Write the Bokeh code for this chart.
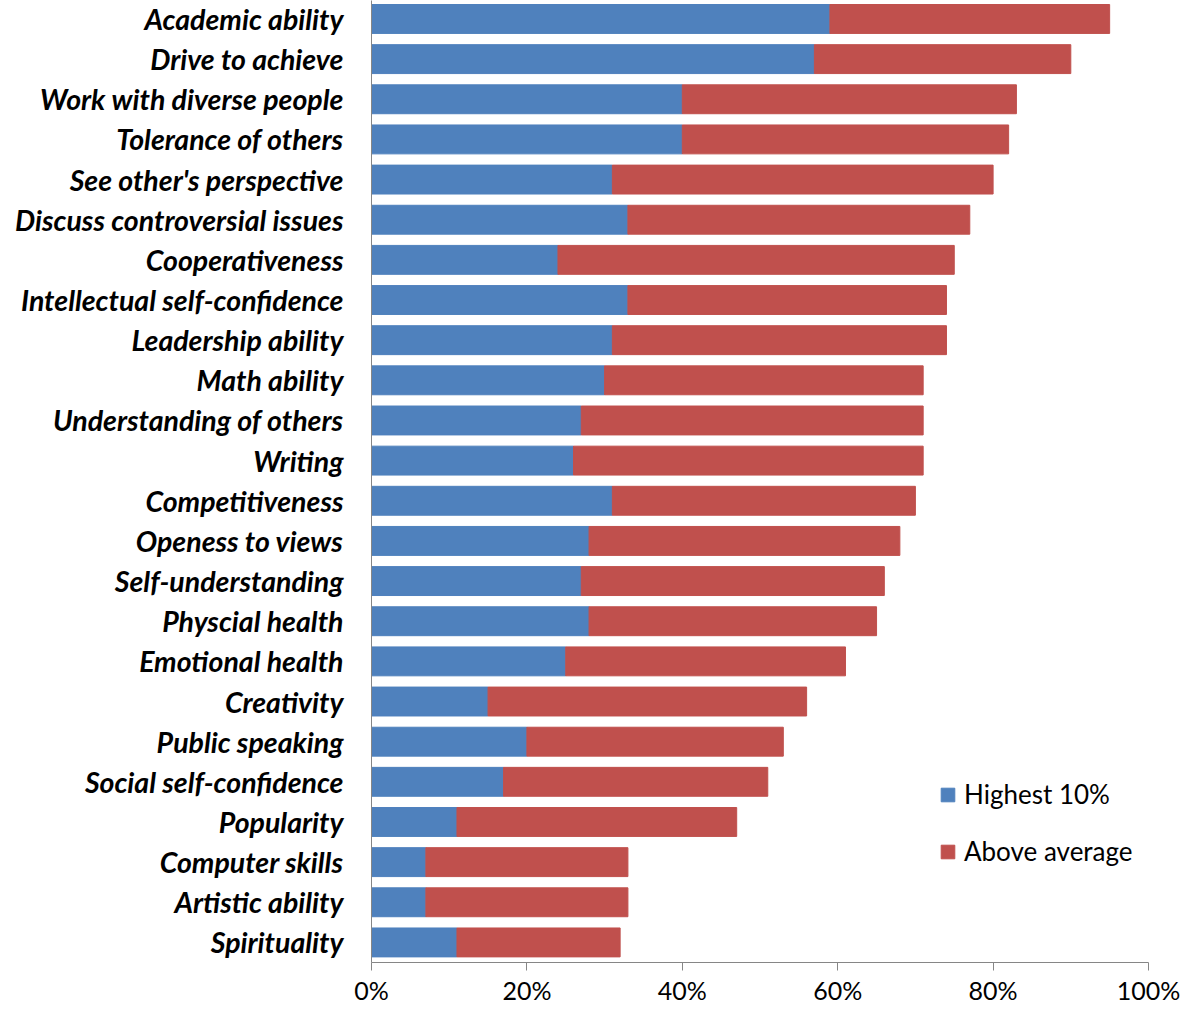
from bokeh.plotting import figure
from bokeh.models import Range1d, FixedTicker, PrintfTickFormatter, ColumnDataSource, Legend
from bokeh.embed import file_html
from bokeh.resources import INLINE

# Data (top to bottom as in the chart)
categories = ["Academic ability", "Drive to achieve", "Work with diverse people",
              "Tolerance of others", "See other's perspective", "Discuss controversial issues",
              "Cooperativeness", "Intellectual self-confidence", "Leadership ability",
              "Math ability", "Understanding of others", "Writing", "Competitiveness",
              "Openess to views", "Self-understanding", "Physcial health", "Emotional health",
              "Creativity", "Public speaking", "Social self-confidence", "Popularity",
              "Computer skills", "Artistic ability", "Spirituality"]
highest_10 = [59, 57, 40, 40, 31, 33, 24, 33, 31, 30, 27, 26, 31, 28, 27, 28, 25, 15, 20, 17, 11, 7, 7, 11]
above_average = [36, 33, 43, 42, 49, 44, 51, 41, 43, 41, 44, 45, 39, 40, 39, 37, 36, 41, 33, 34, 36, 26, 26, 21]
x_ticks = [0, 20, 40, 60, 80, 100]

n = len(categories)
ypos = [n - 1 - i for i in range(n)]
totals = [h + a for h, a in zip(highest_10, above_average)]

src = ColumnDataSource(dict(y=ypos, high=highest_10, total=totals, zero=[0] * n))

BLUE = "#4F81BD"
RED = "#C0504D"
AXIS = "#868686"

p = figure(width=1186, height=1007, output_backend="svg", toolbar_location=None,
           x_range=Range1d(0, 100), y_range=Range1d(-0.5, 23.46),
           min_border_left=371, min_border_right=38, min_border_top=0, min_border_bottom=44)
p.outline_line_color = None
p.grid.visible = False

r1 = p.hbar(y="y", left="zero", right="high", height=0.72, color=BLUE, source=src)
r2 = p.hbar(y="y", left="high", right="total", height=0.72, color=RED, source=src)

legend = Legend(items=[("Highest 10%", [r1]), ("Above average", [r2])],
                location=(568, 95), orientation="vertical",
                glyph_width=17, glyph_height=17, label_height=31, label_width=180,
                label_standoff=8, spacing=25, padding=0, margin=0,
                border_line_color=None, background_fill_alpha=0,
                label_text_font="Lato", label_text_font_size="26px", label_text_color="#000000")
p.add_layout(legend)

# x axis
xa = p.xaxis[0]
xa.ticker = FixedTicker(ticks=x_ticks)
xa.formatter = PrintfTickFormatter(format="%d%%")
xa.axis_line_color = AXIS
xa.major_tick_line_color = AXIS
xa.major_tick_out = 8
xa.major_tick_in = 0
xa.minor_tick_line_color = None
xa.major_label_text_font = "Lato"
xa.major_label_text_font_size = "25px"
xa.major_label_text_color = "#000000"
xa.major_label_standoff = 4

# y axis
ya = p.yaxis[0]
ya.ticker = FixedTicker(ticks=ypos)
ya.major_label_overrides = {y: c for y, c in zip(ypos, categories)}
ya.axis_line_color = AXIS
ya.major_tick_line_color = None
ya.minor_tick_line_color = None
ya.major_tick_out = 0
ya.major_tick_in = 0
ya.major_label_text_font = "Lato"
ya.major_label_text_font_size = "28.5px"
ya.major_label_text_font_style = "bold italic"
ya.major_label_text_color = "#000000"
ya.major_label_standoff = 28

open("out.html", "w").write(file_html(p, INLINE))
